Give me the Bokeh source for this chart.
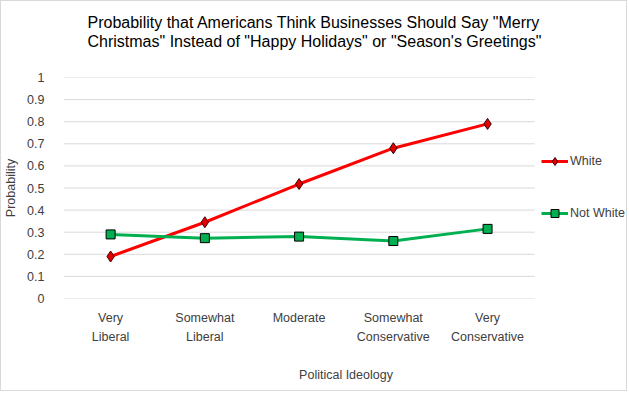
import math
from bokeh.plotting import figure
from bokeh.models import (Range1d, FixedTicker, CustomJSTickFormatter, Legend, LegendItem,
                          LinearAxis, Title)
from bokeh.embed import file_html
from bokeh.resources import INLINE

categories = ["Very Liberal", "Somewhat Liberal", "Moderate", "Somewhat Conservative", "Very Conservative"]
tick_line1 = ["Very", "Somewhat", "Moderate", "Somewhat", "Very"]
tick_line2 = ["Liberal", "Liberal", "", "Conservative", "Conservative"]
white = [0.19, 0.345, 0.518, 0.68, 0.79]
not_white = [0.29, 0.273, 0.28, 0.26, 0.315]
y_ticks = [0, 0.1, 0.2, 0.3, 0.4, 0.5, 0.6, 0.7, 0.8, 0.9, 1.0]
title_lines = ['Probability that Americans Think Businesses Should Say "Merry',
               'Christmas" Instead of "Happy Holidays" or "Season\'s Greetings"']

FONT = "Liberation Sans"
TXT = "#404040"
FS = "12.5px"

n = len(categories)
xs = [i + 0.5 for i in range(n)]          # category centres on the x scale
x_end = n * 566 / 472                      # room at the right for the legend

p = figure(width=627, height=391, x_range=Range1d(0, x_end), y_range=Range1d(0, 1),
           output_backend="svg", toolbar_location=None, x_axis_location=None,
           min_border_left=61, min_border_right=0, min_border_top=76, min_border_bottom=94)
p.styles = {"border": "1px solid #d9d9d9"}
p.outline_line_color = None
p.xgrid.grid_line_color = None
p.ygrid.grid_line_color = None

# spacer between the title and the plot area (first added = nearest the plot)
p.add_layout(Title(text=" ", text_font_size="1px", standoff=25), "above")
# title: two lines, the figure's own title outermost
p.title.text = title_lines[0]
t2 = Title(text=title_lines[1])
p.add_layout(t2, "above")
for t in (p.title, t2):
    t.align = "left"
    t.offset = 24
    t.standoff = 0
    t.text_font = FONT
    t.text_font_size = "16px"
    t.text_font_style = "normal"
    t.text_color = "#000000"

# horizontal gridlines across the category area only
p.segment(x0=[0] * len(y_ticks), x1=[n] * len(y_ticks), y0=y_ticks, y1=y_ticks,
          line_color="#d9d9d9", line_width=1)

p.yaxis.ticker = FixedTicker(ticks=y_ticks)
p.yaxis.formatter = CustomJSTickFormatter(code="return String(Math.round(tick*10)/10);")
p.yaxis.axis_line_color = None
p.yaxis.major_tick_line_color = None
p.yaxis.minor_tick_line_color = None
p.yaxis.major_label_standoff = 13
p.yaxis.axis_label = "Probability"
p.yaxis.axis_label_standoff = 6

ax1 = LinearAxis(ticker=FixedTicker(ticks=xs), major_label_overrides=dict(zip(xs, tick_line1)),
                 major_label_standoff=6)
ax2 = LinearAxis(ticker=FixedTicker(ticks=xs), major_label_overrides=dict(zip(xs, tick_line2)),
                 major_label_standoff=-4, axis_label="Political Ideology", axis_label_standoff=21)
for ax in (ax1, ax2):
    ax.axis_line_color = None
    ax.major_tick_line_color = None
    ax.minor_tick_line_color = None
    p.add_layout(ax, "below")

for ax in (ax1, ax2, p.yaxis[0]):
    ax.major_label_text_font = FONT
    ax.major_label_text_font_size = FS
    ax.major_label_text_color = TXT
    ax.axis_label_text_font = FONT
    ax.axis_label_text_font_size = FS
    ax.axis_label_text_color = TXT
    ax.axis_label_text_font_style = "normal"

WHITE_FILL, WHITE_LINE = "#e00000", "#400000"
NW_FILL = "#00b050"

r1 = p.line(xs, white, line_color="#ff0000", line_width=3)
r1m = p.scatter(xs, white, marker="diamond", size=11,
                fill_color=WHITE_FILL, line_color=WHITE_LINE, line_width=1)
r2 = p.line(xs, not_white, line_color=NW_FILL, line_width=3)
r2m = p.scatter(xs, not_white, marker="square", size=9, fill_color=NW_FILL, line_color="#000000", line_width=1)

legend = Legend(items=[LegendItem(label="White", renderers=[r1, r1m]),
                       LegendItem(label="Not White", renderers=[r2, r2m])],
                location=(478, 75), orientation="vertical", spacing=32,
                padding=0, margin=0, border_line_color=None, background_fill_alpha=0,
                glyph_width=27, glyph_height=20, label_standoff=2, label_height=20,
                label_text_font=FONT, label_text_font_size=FS, label_text_color=TXT)
p.add_layout(legend)

open("out.html", "w").write(file_html(p, INLINE))
